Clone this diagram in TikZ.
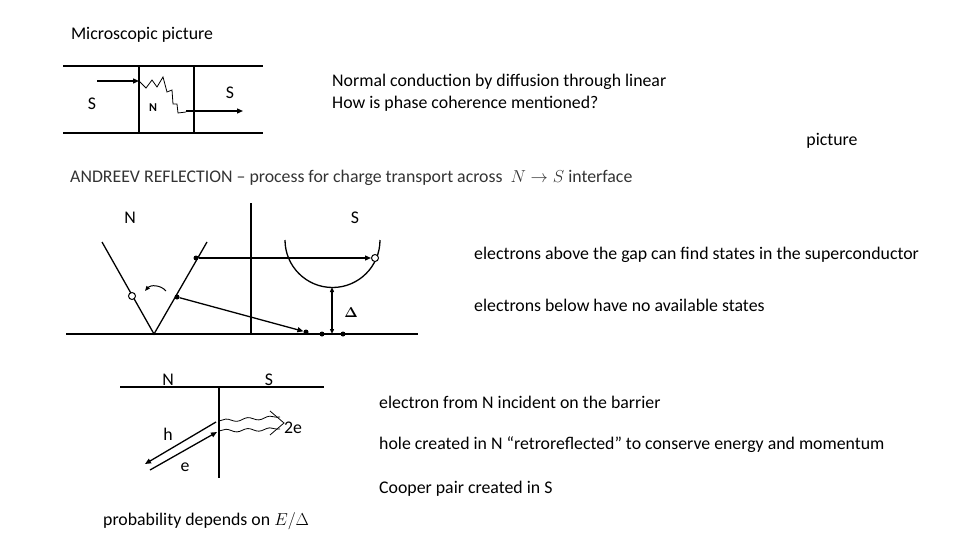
\documentclass[tikz,border=0pt]{standalone}
\usepackage{fontspec}
\setmainfont{Carlito}
\usetikzlibrary{arrows.meta,decorations.pathmorphing}
\begin{document}
\begin{tikzpicture}[x=1pt,y=-1pt,
  txt/.style={font=\fontsize{17.8}{20}\selectfont,inner sep=0pt},
  lft/.style={txt,anchor=west},
  ln/.style={line width=1.3pt},
  arr/.style={ln,-{Triangle[length=6pt,width=5pt]}},
  fdot/.style={circle,fill,inner sep=0pt,minimum size=5pt},
  odot/.style={circle,draw,fill=white,line width=1pt,inner sep=0pt,minimum size=7pt}]
\useasboundingbox (0,0) rectangle (960,540);
% top
\node[txt] (t1) at (142,35) {Microscopic picture};
\draw[ln] (63,66) -- (263,66) (63,133) -- (263,133) (139,66) -- (139,133) (194,66) -- (194,133);
\coordinate (a0) at (97,81); \coordinate (a1) at (139,81);
\draw[arr] (a0) -- (a1);
\draw[line width=0.8pt] (a1) -- (146,88) -- (152,80) -- (157,87) -- (163,77) -- (167,92) -- (172,90) -- (173,104) -- (177,104) -- (178,113) -- (186,112);
\coordinate (b0) at (186,111); \coordinate (b1) at (243,111);
\draw[arr] (b0) -- (b1);
\node[txt] (s1) at (92,104) {S};
\node[txt,font=\fontsize{12}{14}\selectfont\bfseries] (n1) at (153,108) {N};
\node[txt] (s2) at (230,93) {S};
\node[lft] (t2) at (332,82) {Normal conduction by diffusion through linear};
\node[lft] (t3) at (332,104) {How is phase coherence mentioned?};
\node[txt] (t4) at (832,141) {picture};
\node[lft,text=black!80] (t5) at (70,178) {ANDREEV REFLECTION -- process for charge transport across \ $N\rightarrow S$ interface};
% middle
\draw[ln] (66,334) -- (418,334) (251,203) -- (251,334);
\draw[ln] (102,242) -- (154,334) -- (207,242);
\draw[ln] (285,240) arc[start angle=180,end angle=0,radius=47.5];
\node[fdot] (d1) at (196,258) {};
\node[odot] (o1) at (375,258) {};
\draw[arr] (d1) -- (o1);
\node[odot] (o2) at (132,296) {};
\node[fdot] (d2) at (177,297) {};
\node[fdot] (d3) at (306,332) {};
\draw[arr] (d2) -- (d3);
\node[fdot] (d4) at (322,334) {};
\node[fdot] (d5) at (343,334) {};
\coordinate (g0) at (332,287); \coordinate (g1) at (332,334);
\draw[ln,{Triangle[length=5pt,width=4pt]}-{Triangle[length=5pt,width=4pt]}] (g0) -- (g1);
\coordinate (c0) at (166,291); \coordinate (c1) at (145,291);
\draw[line width=1pt,-{Triangle[length=5pt,width=4pt]}] (c0) to[bend right=50] (c1);
\node[txt,font=\fontsize{14}{16}\selectfont\boldmath] (dl) at (351,313) {$\Delta$};
\node[txt] (n2) at (130,218) {N};
\node[txt] (s3) at (355,218) {S};
\node[lft] (t6) at (474,255) {electrons above the gap can find states in the superconductor};
\node[lft] (t7) at (474,305) {electrons below have no available states};
% bottom
\draw[ln] (120,387) -- (324,387) (219,387) -- (219,478);
\coordinate (h0) at (216,422); \coordinate (h1) at (145,464);
\draw[arr] (h0) -- (h1);
\coordinate (e0) at (150,470); \coordinate (e1) at (217,432);
\draw[arr] (e0) -- (e1);
\draw[line width=0.8pt,decorate,decoration={snake,amplitude=1.5pt,segment length=22pt}] (219,421) -- (280,417);
\draw[line width=0.8pt,decorate,decoration={snake,amplitude=1.5pt,segment length=22pt}] (219,431) -- (280,429);
\draw[line width=0.8pt] (270,411) -- (284,423) -- (270,435);
\node[txt] (e2) at (293,428) {2e};
\node[txt] (h) at (168,434) {h};
\node[txt] (e) at (185,467) {e};
\node[txt] (n3) at (168,380) {N};
\node[txt] (s4) at (269,380) {S};
\node[lft] (t8) at (379,402) {electron from N incident on the barrier};
\node[lft] (t9) at (379,445) {hole created in N “retroreflected” to conserve energy and momentum};
\node[lft] (t10) at (379,489) {Cooper pair created in S};
\node[lft] (t11) at (103,521) {probability depends on $E/\Delta$};
\end{tikzpicture}
\end{document}
